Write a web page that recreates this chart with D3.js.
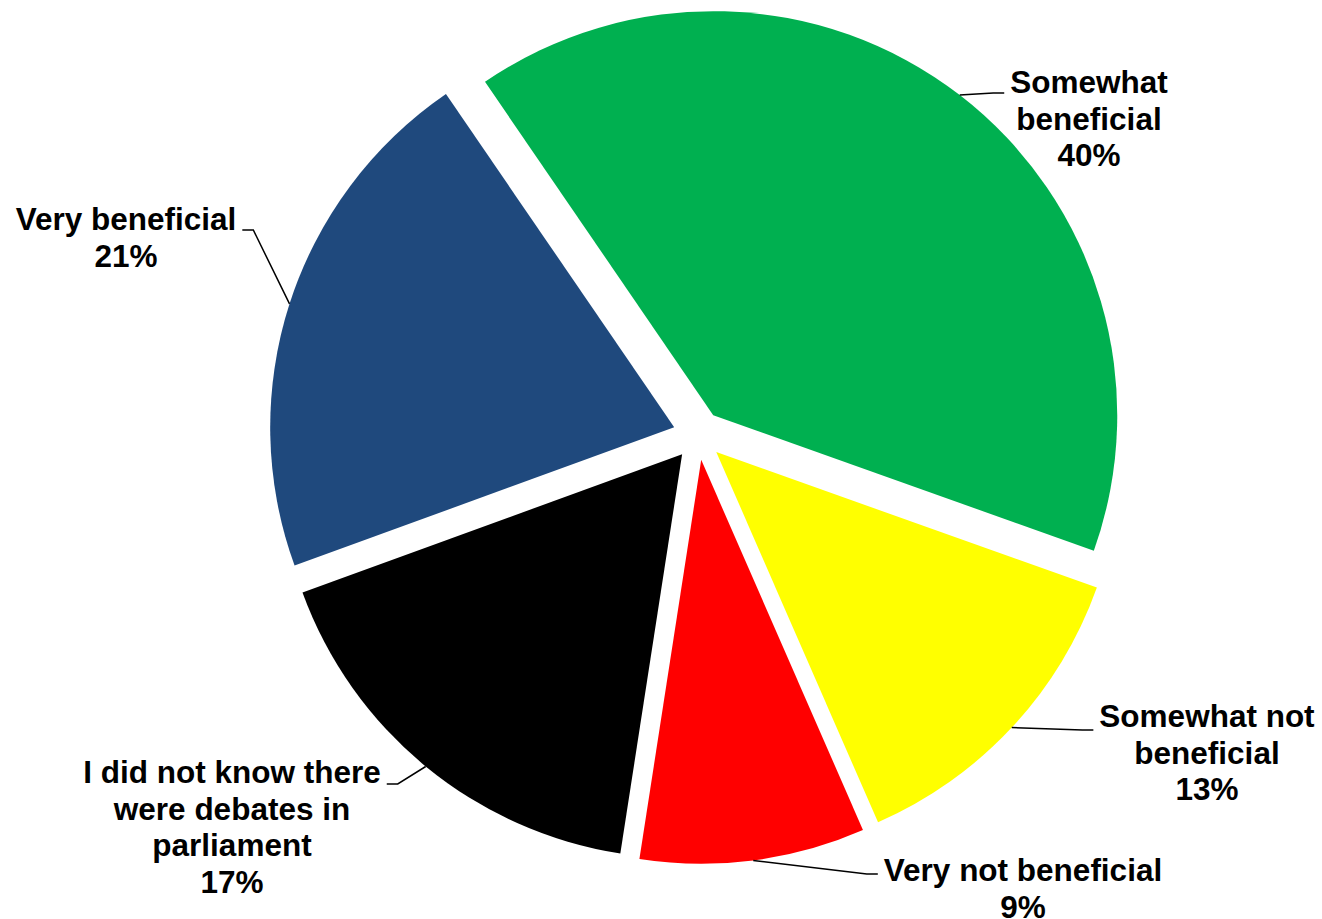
<!DOCTYPE html>
<html>
<head>
<meta charset="utf-8">
<script src="https://cdn.jsdelivr.net/npm/d3@7"></script>
<style>
  body { margin: 0; background: #fff; }
  svg { display: block; }
</style>
</head>
<body>
<svg id="chart" width="1322" height="919"></svg>
<script>
// Survey answers, in drawing order (clockwise from the first slice angle)
const categories = [
  "Very beneficial",
  "Somewhat beneficial",
  "Somewhat not beneficial",
  "Very not beneficial",
  "I did not know there were debates in parliament"
];
const values = [21, 40, 13, 9, 17];
const labelLines = [
  ["Very beneficial"],
  ["Somewhat", "beneficial"],
  ["Somewhat not", "beneficial"],
  ["Very not beneficial"],
  ["I did not know there", "were debates in", "parliament"]
];
const colors = ["#1F497D", "#00B050", "#FFFF00", "#FF0000", "#000000"];

// Geometry
const width = 1322, height = 919;
const cx = 698, cy = 435, radius = 404, explode = 25;
const firstSliceAngle = 250; // degrees, clockwise from 12 o'clock
const fontSize = 31.5, lineHeight = 36.5;

// Label placement: centre x, first baseline y, side the leader joins, leader height
const labelLayout = [
  { x: 126,  y: 230, side: "right", ly: 230 },
  { x: 1089, y: 93,  side: "left",  ly: 93 },
  { x: 1207, y: 727, side: "left",  ly: 730 },
  { x: 1023, y: 881, side: "left",  ly: 874 },
  { x: 232,  y: 783, side: "right", ly: 784 }
];

const rad = d => d * Math.PI / 180;
const svg = d3.select("#chart");

const pie = d3.pie()
  .sort(null)
  .value(d => d)
  .startAngle(rad(firstSliceAngle))
  .endAngle(rad(firstSliceAngle + 360));

const arc = d3.arc().innerRadius(0).outerRadius(radius);
const arcs = pie(values);

// Exploded slice centre for each arc
const sliceCentre = a => {
  const m = (a.startAngle + a.endAngle) / 2;
  return [cx + Math.sin(m) * explode, cy - Math.cos(m) * explode, m];
};

svg.append("g").selectAll("path")
  .data(arcs)
  .join("path")
  .attr("transform", a => {
    const [x, y] = sliceCentre(a);
    return `translate(${x},${y})`;
  })
  .attr("d", arc)
  .attr("fill", (a, i) => colors[i]);

// Data labels
const labels = svg.append("g")
  .attr("font-family", "'Liberation Sans', Arial, Helvetica, sans-serif")
  .attr("font-weight", "bold")
  .attr("font-size", fontSize)
  .attr("fill", "#000");

const leaders = svg.append("g")
  .attr("fill", "none")
  .attr("stroke", "#000")
  .attr("stroke-width", 1.5);

arcs.forEach((a, i) => {
  const lay = labelLayout[i];
  const lines = labelLines[i].concat([values[i] + "%"]);
  const t = labels.append("text").attr("text-anchor", "middle");
  lines.forEach((ln, k) => {
    t.append("tspan")
      .attr("x", lay.x)
      .attr("y", lay.y + k * lineHeight)
      .text(ln);
  });

  // leader from the slice rim (at mid angle) to the label's first line
  const firstWidth = t.select("tspan").node().getComputedTextLength();
  const [sx, sy, m] = sliceCentre(a);
  const p0 = [sx + Math.sin(m) * radius, sy - Math.cos(m) * radius];
  const dir = lay.side === "right" ? 1 : -1;
  const end = lay.x + dir * (firstWidth / 2 + 6);
  const elbow = end + dir * 11;
  leaders.append("path")
    .attr("d", d3.line()([p0, [elbow, lay.ly], [end, lay.ly]]));
});
</script>
</body>
</html>
